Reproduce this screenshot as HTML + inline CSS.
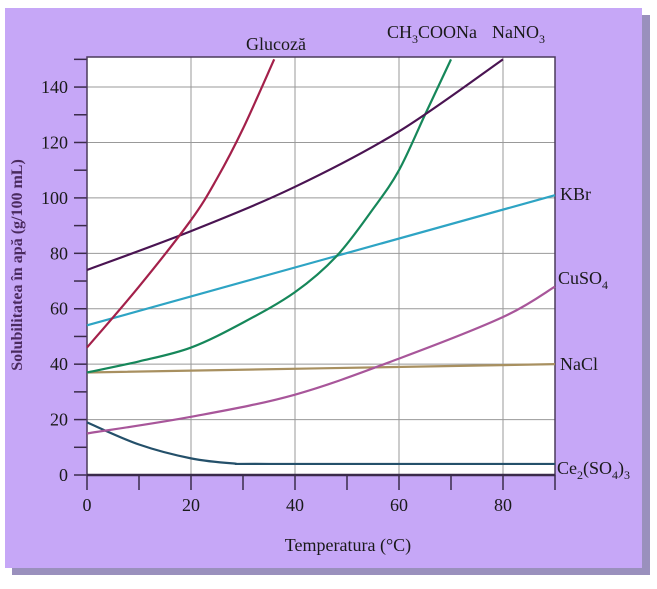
<!DOCTYPE html>
<html><head><meta charset="utf-8"><style>
body{margin:0;background:#fff;width:657px;height:589px;overflow:hidden}
svg{display:block;font-family:"Liberation Serif",serif}
</style></head><body>
<svg width="657" height="589">
<rect x="12" y="15" width="638" height="560" fill="#9a90bd"/>
<rect x="5" y="8" width="637" height="560" fill="#c6a7f7"/>
<rect x="87" y="57" width="468" height="418" fill="#fff"/>
<g id="grid"></g><g id="axes"></g><g id="series"></g>
<text x="22" y="265" transform="rotate(-90 22 265)" text-anchor="middle" font-size="16" font-weight="bold" fill="#4a2a5e">Solubilitatea în apă  (g/100 mL)</text>
<text x="348" y="551" text-anchor="middle" font-size="18" fill="#1a1a1a">Temperatura (°C)</text>
<text x="276" y="50" text-anchor="middle" font-size="18" fill="#1a1a1a">Glucoză</text>
<text x="387" y="38" font-size="18" fill="#1a1a1a">CH<tspan dy="5" font-size="12">3</tspan><tspan dy="-5">COONa</tspan></text>
<text x="492" y="38" font-size="18" fill="#1a1a1a">NaNO<tspan dy="5" font-size="12">3</tspan></text>
<text x="560" y="200" font-size="18" fill="#1a1a1a">KBr</text>
<text x="558" y="284" font-size="18" fill="#1a1a1a">CuSO<tspan dy="5" font-size="12">4</tspan></text>
<text x="560" y="370" font-size="18" fill="#1a1a1a">NaCl</text>
<text x="557" y="474" font-size="18" fill="#1a1a1a">Ce<tspan dy="5" font-size="12">2</tspan><tspan dy="-5">(SO</tspan><tspan dy="5" font-size="12">4</tspan><tspan dy="-5">)</tspan><tspan dy="5" font-size="12">3</tspan></text>
</svg>
<script>
const xTicks=[0,20,40,60,80];
const yTicks=[0,20,40,60,80,100,120,140];
const glucozaT=[0,10,20,25,30,36];const glucozaV=[46,68,92,107,125,150];
const nano3T=[0,20,40,60,80];const nano3V=[74,88,104,124,150];
const ch3coonaT=[0,10,20,30,40,48,55,60,65,70];const ch3coonaV=[37,41,46,55,66,79,96,110,130,150];
const kbrT=[0,90];const kbrV=[54,101];
const cuso4T=[0,20,40,60,80,90];const cuso4V=[15,21,29,42,57,68];
const naclT=[0,90];const naclV=[37,40];
const ceT=[0,10,20,28,35,90];const ceV=[19,11,6,4.2,4,4];
const NS="http://www.w3.org/2000/svg";
const X=t=>87+t*5.2, Y=v=>475-v*2.771;
function mk(tag,attrs,parent){const e=document.createElementNS(NS,tag);for(const k in attrs)e.setAttribute(k,attrs[k]);parent.appendChild(e);return e;}
const grid=document.getElementById('grid'),axes=document.getElementById('axes'),ser=document.getElementById('series');
xTicks.forEach(t=>{if(t>0){const l=mk('line',{x1:X(t),x2:X(t),y1:57,y2:475,stroke:'#999','stroke-width':1},grid);

}
const tx=mk('text',{x:X(t),y:511,'text-anchor':'middle','font-size':18,fill:'#1a1a1a'},axes);tx.textContent=t;

});
for(let t=0;t<=90;t+=10){const l=mk('line',{x1:X(t),x2:X(t),y1:475,y2:490,stroke:'#3a2a4a','stroke-width':1.5},axes);

}
yTicks.forEach(v=>{if(v>0){const l=mk('line',{x1:87,x2:555,y1:Y(v),y2:Y(v),stroke:'#999','stroke-width':1},grid);

}
const tx=mk('text',{x:68,y:Y(v)+6,'text-anchor':'end','font-size':18,fill:'#1a1a1a'},axes);tx.textContent=v;

});
for(let v=0;v<=150;v+=10){const l=mk('line',{x1:74,x2:87,y1:Y(v),y2:Y(v),stroke:'#3a2a4a','stroke-width':1.5},axes);

}
const bx=mk('rect',{x:87,y:57,width:468,height:418,fill:'none',stroke:'#4a3a5a','stroke-width':1.5},axes);


const ax=mk('line',{x1:87,x2:555,y1:475,y2:475,stroke:'#3a2a4a','stroke-width':2.5},axes);


function path(T,V){const p=T.map((t,i)=>[X(t),Y(V[i])]);let d='M'+p[0][0]+','+p[0][1];
for(let i=0;i<p.length-1;i++){const p0=p[Math.max(i-1,0)],p1=p[i],p2=p[i+1],p3=p[Math.min(i+2,p.length-1)];
d+=' C'+(p1[0]+(p2[0]-p0[0])/6)+','+(p1[1]+(p2[1]-p0[1])/6)+' '+(p2[0]-(p3[0]-p1[0])/6)+','+(p2[1]-(p3[1]-p1[1])/6)+' '+p2[0]+','+p2[1];}return d;}
const S=[['series-nacl',naclT,naclV,'#a89060'],['series-ce2so43',ceT,ceV,'#24506a'],['series-cuso4',cuso4T,cuso4V,'#a8569a'],['series-kbr',kbrT,kbrV,'#2ea4c4'],['series-ch3coona',ch3coonaT,ch3coonaV,'#16875a'],['series-nano3',nano3T,nano3V,'#4a1452'],['series-glucoza',glucozaT,glucozaV,'#a3204a']];
S.forEach(s=>{const e=mk('path',{d:path(s[1],s[2]),fill:'none',stroke:s[3],'stroke-width':2.2},ser);

});
</script>
</body></html>
